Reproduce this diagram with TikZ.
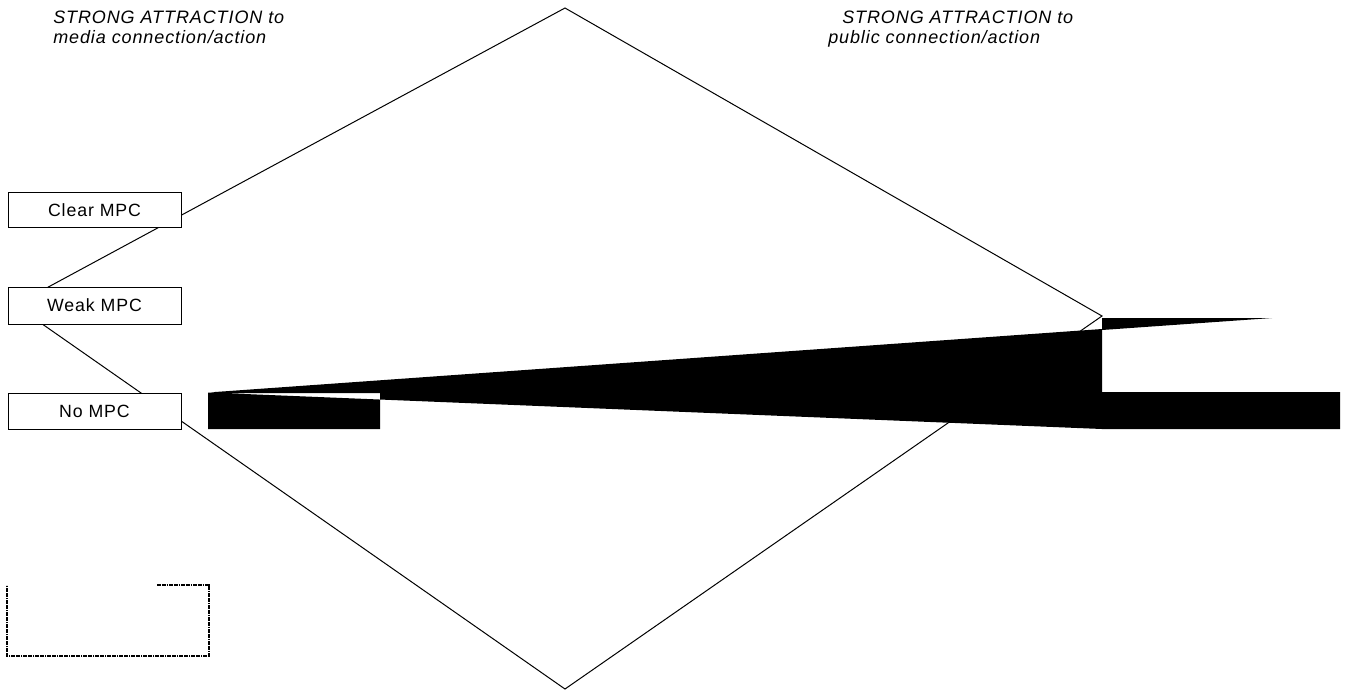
\documentclass[tikz,border=0pt]{standalone}
\usepackage{fontspec}
\setmainfont{Liberation Sans}
\newfontfamily\boxfont[LetterSpace=5]{Liberation Sans}
\newfontfamily\titlefont[LetterSpace=5]{Liberation Sans}
\begin{document}
\begin{tikzpicture}[x=0.75pt,y=-0.75pt,
  mpcbox/.style={draw,fill=white,line width=0.75pt,minimum width=173*0.75pt,inner sep=0pt,font=\boxfont\fontsize{13.3pt}{15pt}\selectfont},
  ttl/.style={anchor=base west,inner sep=0pt,font=\titlefont\itshape\fontsize{13.5pt}{15pt}\selectfont},
  edge/.style={line width=0.75pt},
  dotbox/.style={line width=1.2pt,dash pattern=on 1.3pt off 0.5pt}]
\useasboundingbox (0,0) rectangle (1350,694);
% diamond
\coordinate (top) at (565,8);
\coordinate (right) at (1102,316);
\coordinate (bottom) at (565,689);
\coordinate (left) at (15,305);
\draw[edge] (top) -- (right) -- (bottom) -- (left) -- cycle;
% boxes
\node[mpcbox,minimum height=35*0.75pt] (clear) at (94.5,210) {Clear MPC};
\node[mpcbox,minimum height=37*0.75pt] (weak) at (94.5,305.5) {Weak MPC};
\node[mpcbox,minimum height=36*0.75pt] (nompc) at (94.5,411) {No MPC};
% black shapes
\fill[even odd rule] (208,393) rectangle (380,429)
  (208,392.5) -- (1102,329) -- (1102,392) -- (1340,392) -- (1340,429) -- (1102,429) -- cycle;
\fill (1102,318) -- (1272,318) -- (1102,330) -- cycle;
% dotted box
\coordinate (d1) at (157,585);
\coordinate (d2) at (209,585);
\coordinate (d3) at (209,656);
\coordinate (d4) at (7,656);
\coordinate (d5) at (7,585);
\draw[dotbox] (d1) -- (d2) -- (d3) -- (d4) -- (d5);
% titles
\node[ttl] (t1a) at (53,23) {STRONG ATTRACTION to};
\node[ttl] (t1b) at (53,43) {media connection/action};
\node[ttl] (t2a) at (842,23) {STRONG ATTRACTION to};
\node[ttl] (t2b) at (828,43) {public connection/action};
\end{tikzpicture}
\end{document}
